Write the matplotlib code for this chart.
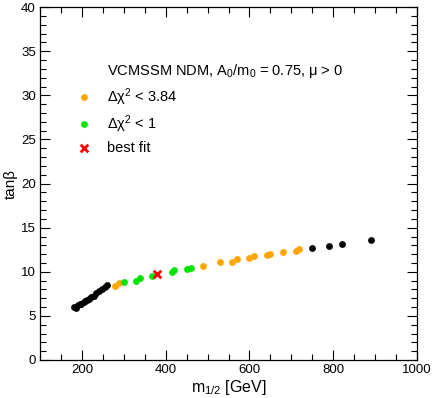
import matplotlib
matplotlib.use("Agg")
import matplotlib.pyplot as plt
from matplotlib.ticker import MultipleLocator

plt.rcParams['font.family'] = ['Liberation Sans', 'DejaVu Sans']
plt.rcParams['mathtext.fontset'] = 'custom'
plt.rcParams['mathtext.rm'] = 'Liberation Sans'
plt.rcParams['mathtext.it'] = 'Liberation Sans'

# other (black) points
black_x = [180, 186, 190, 195, 199, 204, 208, 212, 217, 222, 228, 234, 240, 247, 254, 260,
           749, 790, 821, 890]
black_y = [6.0, 5.9, 6.2, 6.3, 6.4, 6.6, 6.7, 6.8, 6.9, 7.1, 7.3, 7.6, 7.8, 8.1, 8.3, 8.5,
           12.7, 12.9, 13.1, 13.6]
# delta chi2 < 3.84 (orange)
orange_x = [279, 289, 489, 530, 558, 570, 599, 611, 642, 649, 680, 711, 718]
orange_y = [8.4, 8.7, 10.7, 11.1, 11.1, 11.4, 11.6, 11.8, 11.9, 12.0, 12.2, 12.3, 12.6]
# delta chi2 < 1 (green)
green_x = [300, 329, 339, 367, 415, 420, 451, 460]
green_y = [8.8, 9.0, 9.3, 9.5, 10.0, 10.2, 10.3, 10.4]
# best fit
best_x = [379]
best_y = [9.7]

fig = plt.figure(figsize=(4.32, 3.98), dpi=100)
ax = fig.add_axes([0.0926, 0.0955, 0.8727, 0.8865])

ax.scatter(black_x, black_y, s=24, color='black', lw=0, zorder=3)
ax.scatter(orange_x, orange_y, s=24, color='#FFA500', lw=0, zorder=3)
ax.scatter(green_x, green_y, s=24, color='#00E600', lw=0, zorder=3)
ax.scatter(best_x, best_y, s=30, color='#FF0000', marker='x', lw=2, zorder=4)

ax.set_xlim(100, 1000)
ax.set_ylim(0, 40)
ax.xaxis.set_major_locator(MultipleLocator(200))
ax.xaxis.set_minor_locator(MultipleLocator(50))
ax.yaxis.set_major_locator(MultipleLocator(5))
ax.yaxis.set_minor_locator(MultipleLocator(1))
ax.tick_params(which='both', direction='in', top=True, right=True, labelsize=9.5, pad=3)
ax.tick_params(which='major', length=7, width=0.8)
ax.tick_params(which='minor', length=4, width=0.8)
for sp in ax.spines.values():
    sp.set_linewidth(0.9)

ax.set_xlabel('m$_{1/2}$ [GeV]', fontsize=11.5, labelpad=1)
ax.set_ylabel('tanβ', fontsize=11, labelpad=2)

fs = 10.5
ax.text(260, 32.8, 'VCMSSM NDM, A$_0$/m$_0$ = 0.75, μ > 0', fontsize=fs, va='center')
ax.scatter([205], [29.8], s=24, color='#FFA500', lw=0)
ax.text(260, 29.8, 'Δχ$^2$ < 3.84', fontsize=fs, va='center')
ax.scatter([205], [26.7], s=24, color='#00E600', lw=0)
ax.text(260, 26.7, 'Δχ$^2$ < 1', fontsize=fs, va='center')
ax.scatter([205], [24.0], s=30, color='#FF0000', marker='x', lw=2)
ax.text(260, 24.0, 'best fit', fontsize=fs, va='center')

fig.savefig('out.png', dpi=100)
